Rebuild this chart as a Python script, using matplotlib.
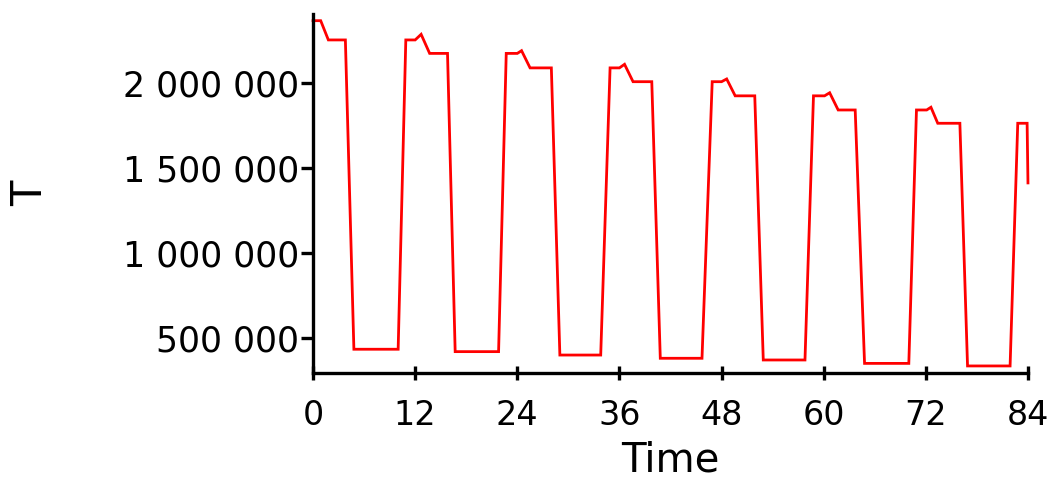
import matplotlib
matplotlib.use("Agg")
import matplotlib.pyplot as plt
from matplotlib.ticker import FuncFormatter

# line vertices (time in months, T)
times = [0, 0.9, 1.8, 3.8, 4.8, 10.0, 10.9, 12.0, 12.7, 13.7,
         15.8, 16.7, 21.8, 22.7, 24.0, 24.5, 25.5,
         28.0, 29.0, 33.8, 34.9, 36.0, 36.6, 37.6,
         39.8, 40.8, 45.7, 46.9, 48.0, 48.6, 49.6,
         51.9, 52.9, 57.8, 58.8, 60.1, 60.7, 61.7,
         63.7, 64.8, 70.0, 70.9, 72.1, 72.6, 73.4,
         76.0, 76.9, 81.9, 82.8, 83.9, 84.0]
T_values = [2364000, 2364000, 2251000, 2251000, 436000, 436000, 2251000, 2251000, 2284000, 2172000,
            2172000, 422000, 422000, 2172000, 2172000, 2188000, 2087000,
            2087000, 402000, 402000, 2087000, 2087000, 2108000, 2006000,
            2006000, 383000, 383000, 2006000, 2006000, 2022000, 1923000,
            1923000, 373000, 373000, 1923000, 1923000, 1941000, 1840000,
            1840000, 353000, 353000, 1840000, 1840000, 1856000, 1762000,
            1762000, 338000, 338000, 1762000, 1762000, 1412000]

x_ticks = [0, 12, 24, 36, 48, 60, 72, 84]
y_ticks = [500000, 1000000, 1500000, 2000000]

plt.rcParams['font.family'] = 'DejaVu Sans'

fig = plt.figure(figsize=(10.54, 4.84), dpi=100)
ax = fig.add_axes([0.297, 0.2293, 0.6783, 0.7417])

ax.plot(times, T_values, color='#ff0000', linewidth=2.0, solid_joinstyle='miter', clip_on=False)

ax.set_xlim(0, 84)
ax.set_ylim(296500, 2403000)
ax.set_xticks(x_ticks)
ax.set_yticks(y_ticks)
ax.yaxis.set_major_formatter(FuncFormatter(lambda v, p: f"{v:,.0f}".replace(',', ' ')))

for side in ['top', 'right']:
    ax.spines[side].set_visible(False)
for side in ['left', 'bottom']:
    ax.spines[side].set_linewidth(2.4)

ax.tick_params(axis='y', direction='out', length=9, width=2.4, pad=1, labelsize=25)
ax.tick_params(axis='x', direction='inout', length=10, width=2.4, pad=14, labelsize=24)

ax.set_xlabel('Time', fontsize=29, labelpad=6)
ax.set_ylabel('T', fontsize=30, labelpad=52)

fig.savefig('out.png', dpi=100)
